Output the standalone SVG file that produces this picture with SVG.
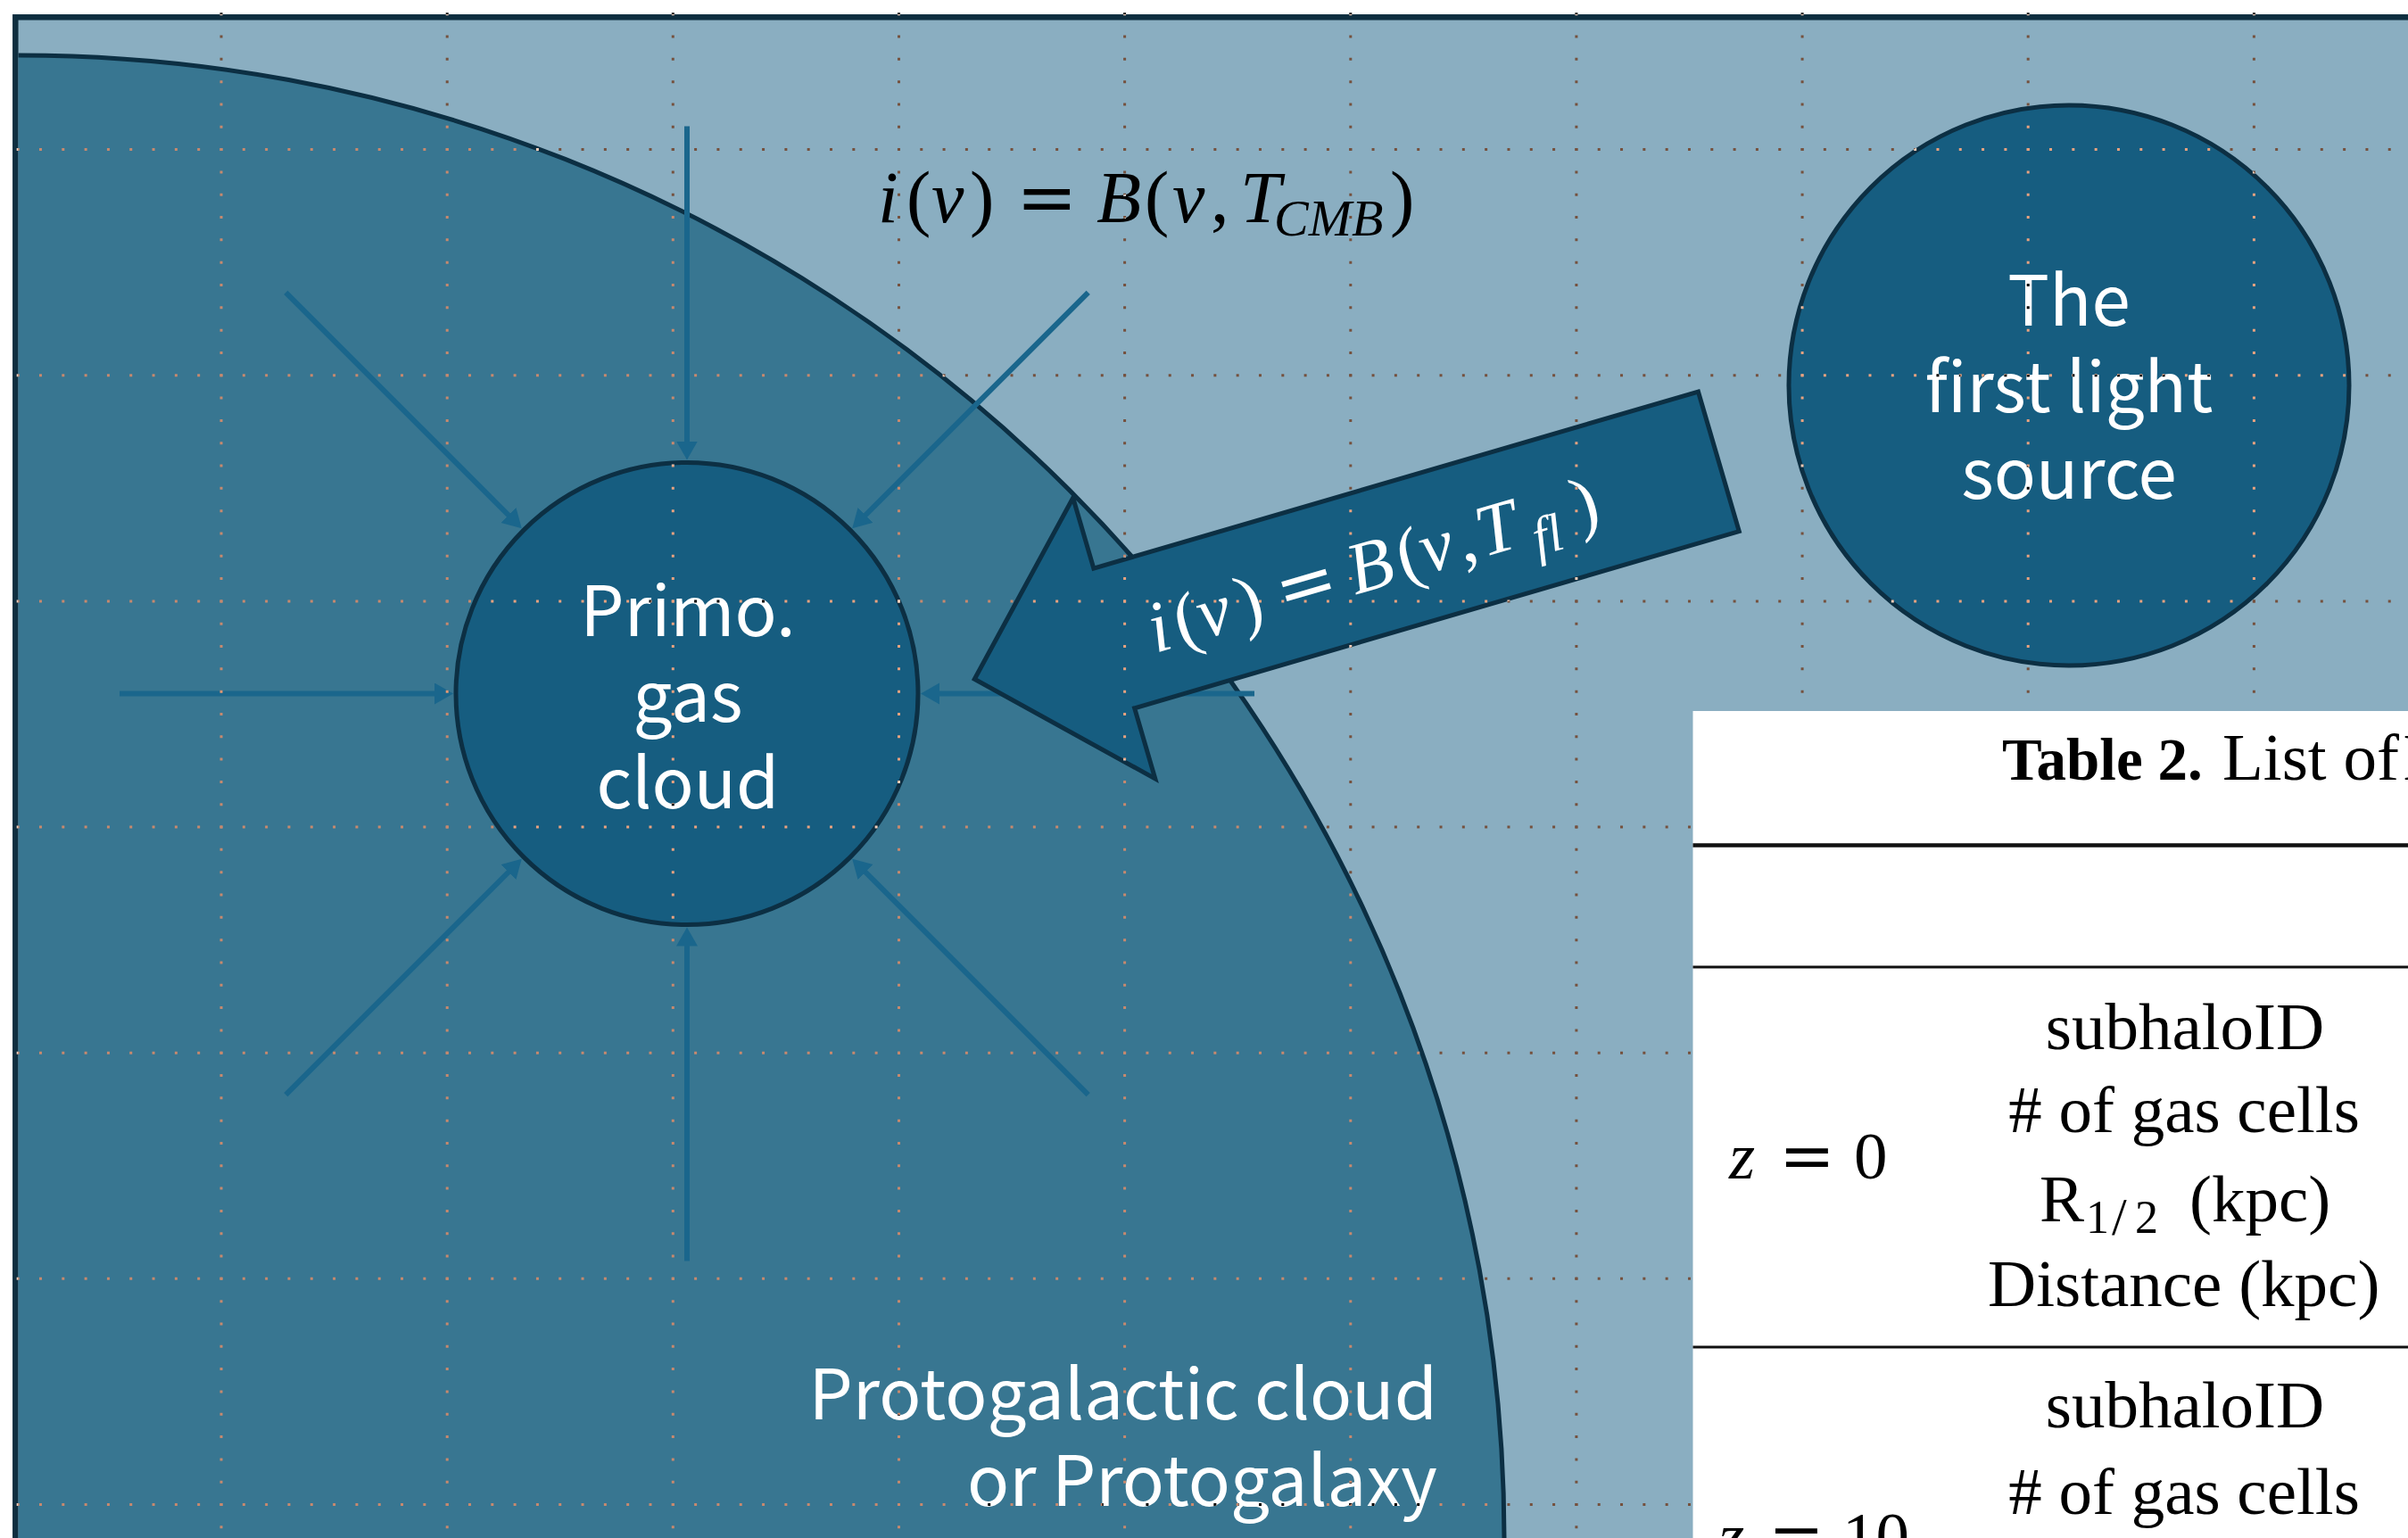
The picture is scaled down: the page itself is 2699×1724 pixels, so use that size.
<svg xmlns="http://www.w3.org/2000/svg" width="2699" height="1724" viewBox="0 0 2699 1724">
  <defs>
    <style>
      .lbl{font-family:"Noto Sans CJK KR","Noto Sans",sans-serif;font-size:78px;fill:#ffffff;}
      .math{font-family:"Liberation Serif","Times New Roman",serif;font-size:82px;font-variant-ligatures:none;}
      .it{font-style:italic;}
      .eq{font-family:"DejaVu Serif",serif;font-style:normal;}
      .node{fill:#165d80;stroke:#0c2f43;stroke-width:5;}
      .ray{stroke:#1a668c;stroke-width:6;fill:none;marker-end:url(#ah);}
      .tbl{font-family:"Liberation Serif","Times New Roman",serif;font-size:75px;fill:#000000;}
      .mid{text-anchor:middle;}
      .rule{stroke:#111111;fill:none;}
      .grid line{stroke:#ffffff;stroke-width:3;stroke-dasharray:3 22.315;}
    </style>
    <marker id="ah" markerUnits="userSpaceOnUse" markerWidth="24" markerHeight="26" refX="10" refY="12" orient="auto">
      <path d="M0,0 L21,12 L0,24 Z" fill="#1a668c"/>
    </marker>
  </defs>

  <!-- page -->
  <rect x="0" y="0" width="2699" height="1724" fill="#ffffff"/>

  <!-- frame / sky -->
  <rect x="17.3" y="19.3" width="2800" height="1800" fill="#8aaec1" stroke="#0e2e3f" stroke-width="6.5"/>

  <!-- protogalactic cloud -->
  <g id="protogalaxy">
    <path d="M20.6,62 A1664,1664 0 0,1 1686,1726 L20.6,1726 Z" fill="#387691"/>
    <path d="M20.6,62 A1664,1664 0 0,1 1686,1726" fill="none" stroke="#0c2f43" stroke-width="5"/>
    <text class="lbl" text-anchor="end" x="1611" y="1591">Protogalactic cloud</text>
    <text class="lbl" text-anchor="end" x="1611" y="1688">or Protogalaxy</text>
  </g>

  <!-- incoming radiation rays -->
  <g id="connectors">
    <line class="ray" x1="770" y1="141.5" x2="770" y2="504.5"/>
    <line class="ray" x1="770" y1="1413.5" x2="770" y2="1050.5"/>
    <line class="ray" x1="134" y1="777.5" x2="497" y2="777.5"/>
    <line class="ray" x1="1406" y1="777.5" x2="1043" y2="777.5"/>
    <line class="ray" x1="320.3" y1="327.8" x2="577" y2="584.5"/>
    <line class="ray" x1="1219.7" y1="327.8" x2="963" y2="584.5"/>
    <line class="ray" x1="320.3" y1="1227.2" x2="577" y2="970.5"/>
    <line class="ray" x1="1219.7" y1="1227.2" x2="963" y2="970.5"/>
  </g>

  <!-- primordial gas cloud -->
  <g id="primo-gas-cloud">
    <circle class="node" cx="770" cy="777.5" r="259"/>
    <text class="lbl mid" x="771" y="713">Primo.</text>
    <text class="lbl mid" x="771" y="809">gas</text>
    <text class="lbl mid" x="771" y="906">cloud</text>
  </g>

  <!-- first light source -->
  <g id="first-light-source">
    <circle class="node" cx="2319" cy="432" r="314"/>
    <text class="lbl mid" x="2319" y="365">The</text>
    <text class="lbl mid" x="2319" y="462">first light</text>
    <text class="lbl mid" x="2319" y="559">source</text>
  </g>

  <!-- CMB intensity label -->
  <g id="cmb-label">
    <text class="math" y="249" fill="#000000">
      <tspan class="it" x="984">i</tspan><tspan x="1016">(</tspan><tspan class="it" x="1044">ν</tspan><tspan x="1087">)</tspan><tspan class="eq" x="1139">=</tspan><tspan class="it" x="1229">B</tspan><tspan x="1283">(</tspan><tspan class="it" x="1314">ν</tspan><tspan x="1357">,</tspan><tspan class="it" x="1390">T</tspan><tspan class="it" x="1428" y="264" font-size="58">CMB</tspan><tspan x="1558" y="249">)</tspan>
    </text>
  </g>

  <!-- first-light beam -->
  <g id="first-light-beam" transform="translate(1092.3,761.2) rotate(-16.3)">
    <polygon points="0,0 163,-164 163,-81.6 869,-81.6 869,81.6 163,81.6 163,164" fill="#165d80" stroke="#0c2f43" stroke-width="5" stroke-linejoin="miter"/>
    <text class="math" y="29" fill="#ffffff" font-size="84">
      <tspan class="it" x="203">i</tspan><tspan x="233">(</tspan><tspan class="it" x="260">ν</tspan><tspan x="306">)</tspan><tspan class="eq" x="352">=</tspan><tspan class="it" x="436">B</tspan><tspan x="493">(</tspan><tspan class="it" x="520">ν</tspan><tspan x="562">,</tspan><tspan class="it" x="586">T</tspan><tspan class="it" x="645" y="45" font-size="60">fl</tspan><tspan x="698" y="29">)</tspan>
    </text>
  </g>

  <!-- dotted guide grid (inverting overlay) -->
  <g class="grid" style="mix-blend-mode:difference">
    <line x1="248" y1="-11.1" x2="248" y2="1730"/>
    <line x1="501.2" y1="-11.1" x2="501.2" y2="1730"/>
    <line x1="754.3" y1="-11.1" x2="754.3" y2="1730"/>
    <line x1="1007.5" y1="-11.1" x2="1007.5" y2="1730"/>
    <line x1="1260.6" y1="-11.1" x2="1260.6" y2="1730"/>
    <line x1="1513.8" y1="-11.1" x2="1513.8" y2="1730"/>
    <line x1="1766.9" y1="-11.1" x2="1766.9" y2="1730"/>
    <line x1="2020.1" y1="-11.1" x2="2020.1" y2="1730"/>
    <line x1="2273.2" y1="-11.1" x2="2273.2" y2="1730"/>
    <line x1="2526.4" y1="-11.1" x2="2526.4" y2="1730"/>
    <line x1="-6.65" y1="167.6" x2="2710" y2="167.6"/>
    <line x1="-6.65" y1="420.75" x2="2710" y2="420.75"/>
    <line x1="-6.65" y1="673.9" x2="2710" y2="673.9"/>
    <line x1="-6.65" y1="927.05" x2="2710" y2="927.05"/>
    <line x1="-6.65" y1="1180.2" x2="2710" y2="1180.2"/>
    <line x1="-6.65" y1="1433.35" x2="2710" y2="1433.35"/>
    <line x1="-6.65" y1="1686.5" x2="2710" y2="1686.5"/>
  </g>

  <!-- table excerpt -->
  <g id="table">
    <rect x="1897.5" y="797" width="810" height="940" fill="#ffffff"/>
    <text class="tbl" y="874" font-size="68"><tspan x="2244" font-size="67" font-weight="bold">Table 2.</tspan><tspan x="2491">List of</tspan><tspan x="2693">I</tspan></text>
    <line class="rule" x1="1897.5" y1="947.5" x2="2699" y2="947.5" stroke-width="4.5"/>
    <line class="rule" x1="1897.5" y1="1084" x2="2699" y2="1084" stroke-width="2.8"/>
    <line class="rule" x1="1897.5" y1="1510" x2="2699" y2="1510" stroke-width="2.8"/>

    <text class="tbl" y="1321.4"><tspan class="it" x="1938">z</tspan><tspan class="eq" x="1994">=</tspan><tspan x="2078">0</tspan></text>
    <text class="tbl mid" x="2449" y="1175.5">subhaloID</text>
    <text class="tbl mid" x="2448" y="1268.6"># of gas cells</text>
    <text class="tbl" y="1369"><tspan x="2286">R</tspan><tspan x="2338" y="1382" font-size="52">1</tspan><tspan x="2367" y="1384" font-size="60">/</tspan><tspan x="2393" y="1382" font-size="52">2</tspan><tspan x="2454" y="1369">(kpc)</tspan></text>
    <text class="tbl" x="2228" y="1464">Distance (kpc)</text>

    <text class="tbl" y="1747"><tspan class="it" x="1926">z</tspan><tspan class="eq" x="1982">=</tspan><tspan x="2065">10</tspan></text>
    <text class="tbl mid" x="2449" y="1600">subhaloID</text>
    <text class="tbl mid" x="2448" y="1696.5"># of gas cells</text>
  </g>
</svg>
